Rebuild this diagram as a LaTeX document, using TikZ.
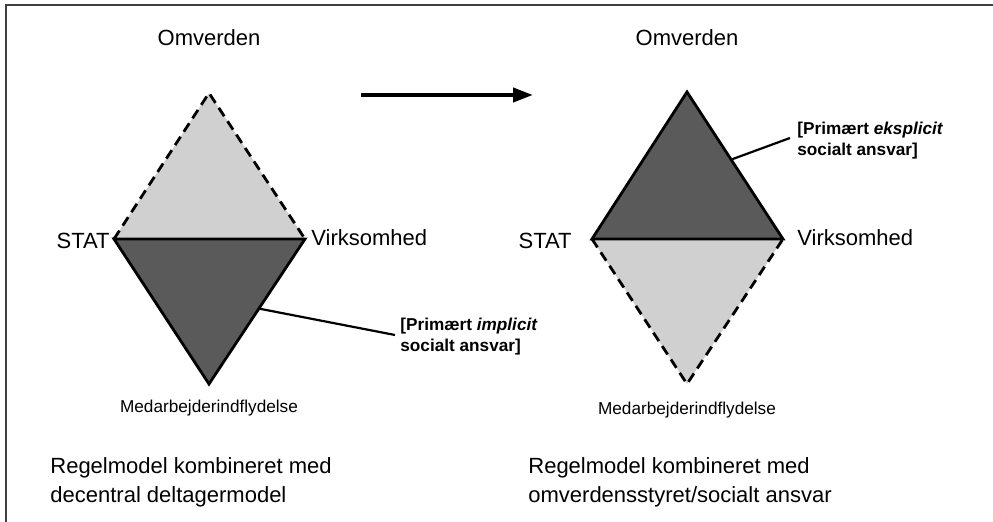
\documentclass[tikz,border=0pt]{standalone}
\usepackage{fontspec}
\setmainfont{Liberation Sans}
\usetikzlibrary{arrows.meta,calc}
\definecolor{lightfill}{HTML}{D0D0D0}
\definecolor{darkfill}{HTML}{5A5A5A}

\begin{document}
\begin{tikzpicture}[x=0.5pt,y=-0.5pt,
        solidedge/.style={draw=black, line width=1.4pt, line join=miter},
        dashededge/.style={draw=black, line width=1.4pt, dash pattern=on 5pt off 3pt},
        corner/.style={font=\fontsize{11}{13}\selectfont, inner sep=0pt},
        small/.style={font=\fontsize{8.6}{10}\selectfont, inner sep=0pt},
        note/.style={font=\bfseries\fontsize{8.6}{10.5}\selectfont, align=left, anchor=west, inner sep=0pt},
        caption/.style={font=\fontsize{11}{14.5}\selectfont, align=left, anchor=west, inner sep=0pt}]
        \useasboundingbox (0,0) rectangle (993,522);
        \draw [line width=1pt, black!75] (6,522) -- (6,5) -- (993,5);

        % left diamond
        \coordinate (lt) at (209,93);
        \coordinate (ll) at (114,239);
        \coordinate (lr) at (305,239);
        \coordinate (lb) at (209,384);
        \fill [lightfill] (ll) -- (lt) -- (lr) -- cycle;
        \draw [dashededge] (ll) -- (lt) -- (lr);
        \draw [solidedge, fill=darkfill] (ll) -- (lr) -- (lb) -- cycle;

        % right diamond
        \coordinate (rt) at (687,92);
        \coordinate (rl) at (592,239);
        \coordinate (rr) at (783,239);
        \coordinate (rb) at (687,384);
        \fill [lightfill] (rl) -- (rb) -- (rr) -- cycle;
        \draw [dashededge] (rl) -- (rb) -- (rr);
        \draw [solidedge, fill=darkfill] (rl) -- (rt) -- (rr) -- cycle;

        % corner labels
        \node [corner] (lomv) at (209,38) {Omverden};
        \node [corner] (romv) at (687,38) {Omverden};
        \node [corner, anchor=east] (lstat) at (110,241) {STAT};
        \node [corner, anchor=west] (lvirk) at (311,238) {Virksomhed};
        \node [corner, anchor=east] (rstat) at (572,241) {STAT};
        \node [corner, anchor=west] (rvirk) at (797,238) {Virksomhed};
        \node [small] (lmed) at (209,408) {Medarbejderindflydelse};
        \node [small] (rmed) at (687,410) {Medarbejderindflydelse};

        % notes
        \node [note] (lnote) at (400,337) {[Primært \textit{implicit}\\socialt ansvar]};
        \node [note] (rnote) at (797,141) {[Primært \textit{eksplicit}\\socialt ansvar]};
        \coordinate (ledge) at ($(lr)!0.48!(lb)$);
        \coordinate (redge) at ($(rt)!0.46!(rr)$);
        \draw [line width=1.1pt] (ledge) -- ($(lnote.west)+(-5,-2)$);
        \draw [line width=1.1pt] (redge) -- ($(rnote.west)+(-7,-3)$);

        % arrow
        \coordinate (astart) at (361,95);
        \coordinate (aend) at (533,95);
        \draw [line width=2pt, -{Triangle[length=10pt,width=7pt]}] (astart) -- (aend);

        % captions
        \node [caption] (lcap) at (50,482) {Regelmodel kombineret med\\decentral deltagermodel};
        \node [caption] (rcap) at (528,482) {Regelmodel kombineret med\\omverdensstyret/socialt ansvar};

\end{tikzpicture}
\end{document}
